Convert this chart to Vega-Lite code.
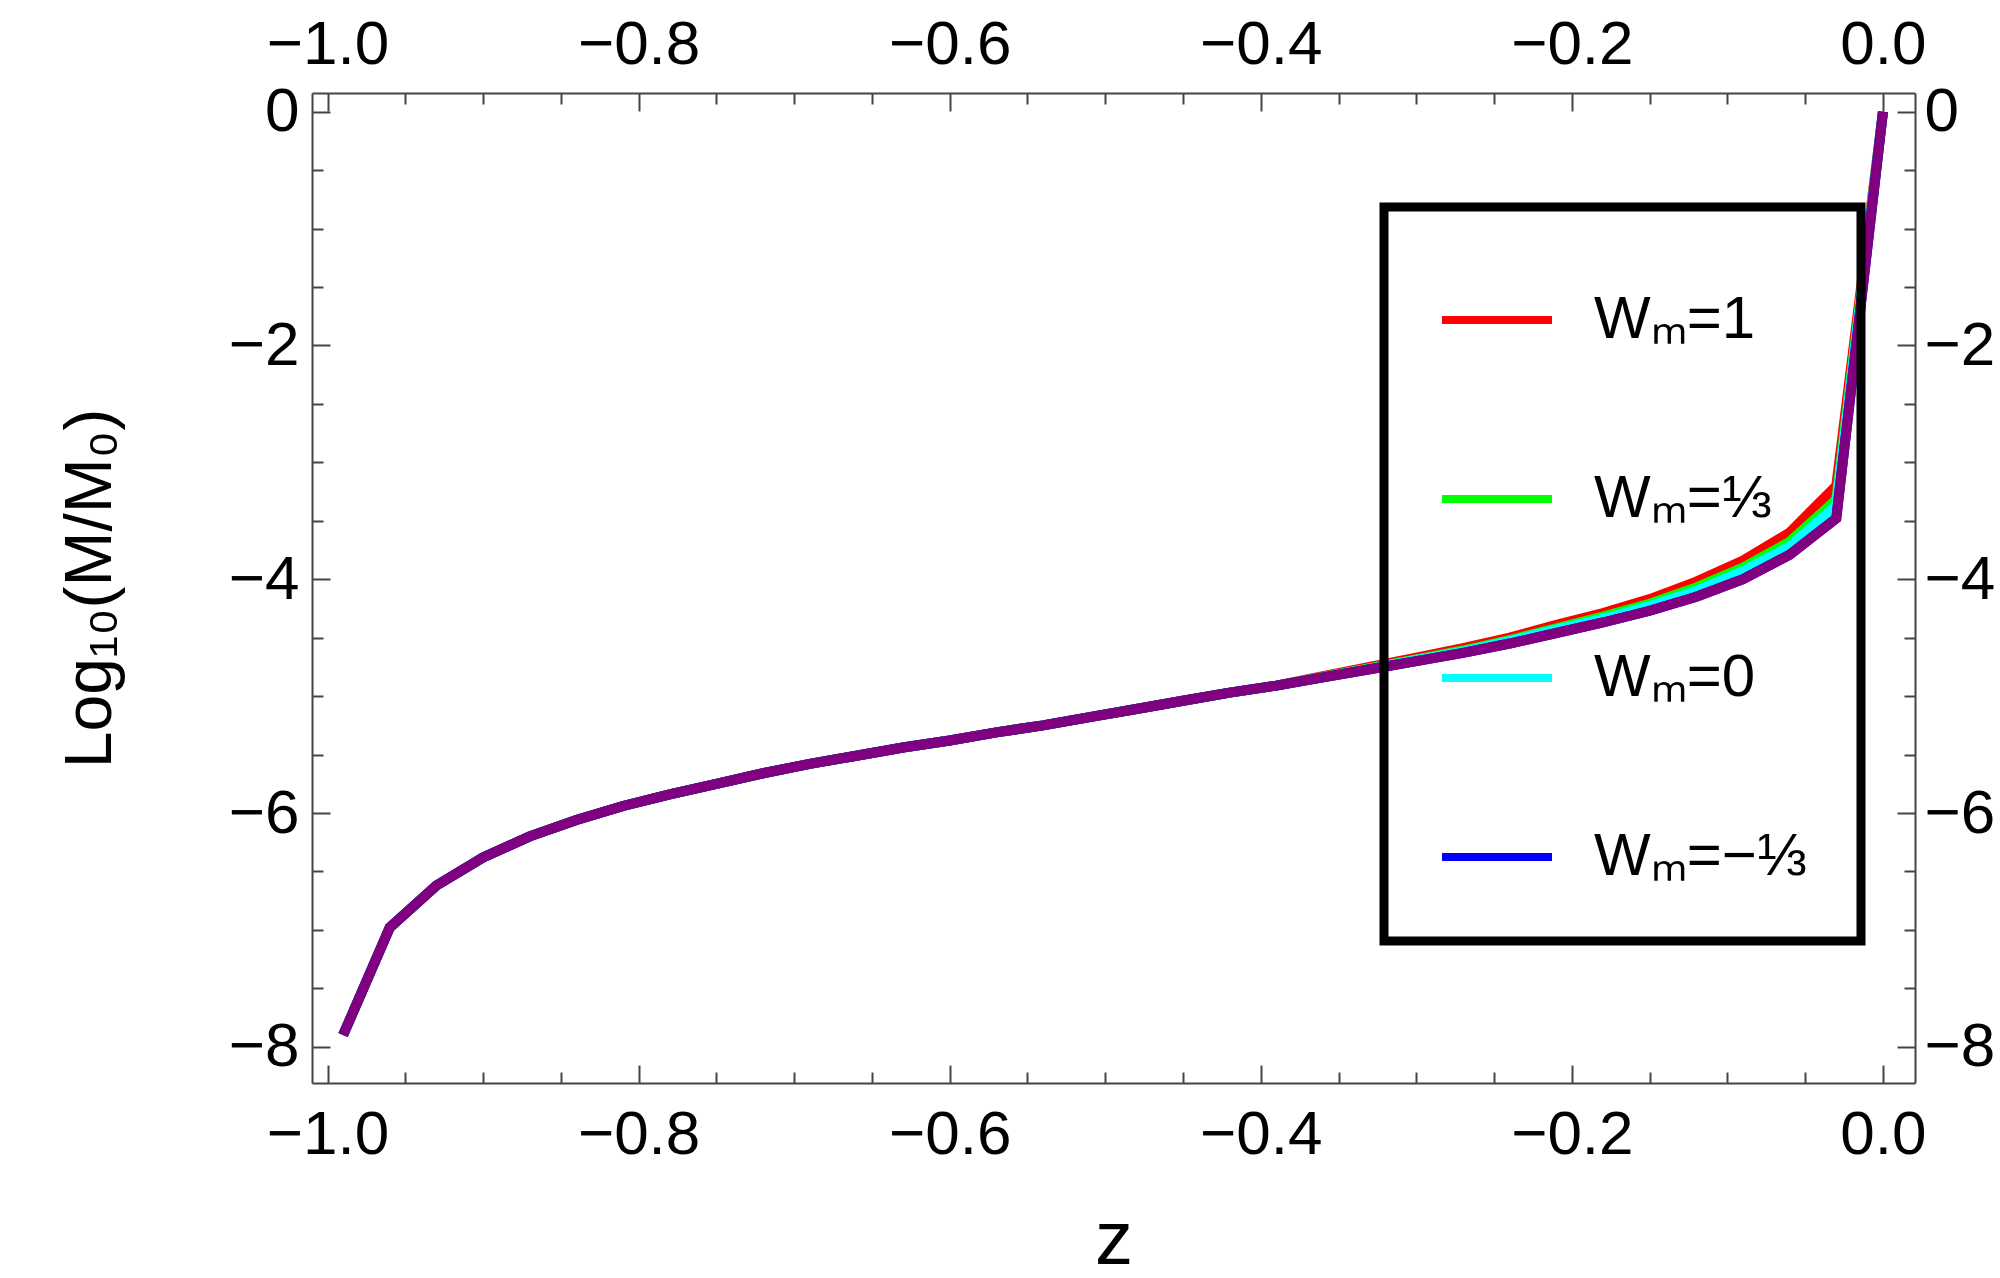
{
  "$schema": "https://vega.github.io/schema/vega-lite/v6.json",
  "autosize": {"type": "none"},
  "padding": {"left": 312, "top": 93, "right": 85, "bottom": 195},
  "width": 1603,
  "height": 990,
  "background": "white",
  "config": {
    "view": {"stroke": null},
    "axis": {
      "grid": false,
      "domainColor": "#444444",
      "domainWidth": 2,
      "tickColor": "#444444",
      "tickWidth": 2,
      "tickSize": 0,
      "labelFont": "Liberation Sans",
      "labelFontSize": 62,
      "labelColor": "black",
      "labelFlush": false,
      "labelOverlap": false,
      "labelBound": false,
      "titleFont": "Liberation Sans",
      "titleFontWeight": "normal",
      "titleColor": "black"
    }
  },
  "data": {
    "values": [
      {"z": -0.99, "v": -7.9, "s": "Wₘ=1"},
      {"z": -0.96, "v": -6.98, "s": "Wₘ=1"},
      {"z": -0.93, "v": -6.62, "s": "Wₘ=1"},
      {"z": -0.9, "v": -6.38, "s": "Wₘ=1"},
      {"z": -0.87, "v": -6.2, "s": "Wₘ=1"},
      {"z": -0.84, "v": -6.06, "s": "Wₘ=1"},
      {"z": -0.81, "v": -5.94, "s": "Wₘ=1"},
      {"z": -0.78, "v": -5.84, "s": "Wₘ=1"},
      {"z": -0.75, "v": -5.75, "s": "Wₘ=1"},
      {"z": -0.72, "v": -5.66, "s": "Wₘ=1"},
      {"z": -0.69, "v": -5.58, "s": "Wₘ=1"},
      {"z": -0.66, "v": -5.51, "s": "Wₘ=1"},
      {"z": -0.63, "v": -5.44, "s": "Wₘ=1"},
      {"z": -0.6, "v": -5.38, "s": "Wₘ=1"},
      {"z": -0.57, "v": -5.31, "s": "Wₘ=1"},
      {"z": -0.54, "v": -5.25, "s": "Wₘ=1"},
      {"z": -0.51, "v": -5.18, "s": "Wₘ=1"},
      {"z": -0.48, "v": -5.11, "s": "Wₘ=1"},
      {"z": -0.45, "v": -5.04, "s": "Wₘ=1"},
      {"z": -0.42, "v": -4.97, "s": "Wₘ=1"},
      {"z": -0.39, "v": -4.91, "s": "Wₘ=1"},
      {"z": -0.36, "v": -4.83, "s": "Wₘ=1"},
      {"z": -0.33, "v": -4.75, "s": "Wₘ=1"},
      {"z": -0.3, "v": -4.67, "s": "Wₘ=1"},
      {"z": -0.27, "v": -4.59, "s": "Wₘ=1"},
      {"z": -0.24, "v": -4.5, "s": "Wₘ=1"},
      {"z": -0.21, "v": -4.39, "s": "Wₘ=1"},
      {"z": -0.18, "v": -4.29, "s": "Wₘ=1"},
      {"z": -0.15, "v": -4.17, "s": "Wₘ=1"},
      {"z": -0.12, "v": -4.02, "s": "Wₘ=1"},
      {"z": -0.09, "v": -3.84, "s": "Wₘ=1"},
      {"z": -0.06, "v": -3.6, "s": "Wₘ=1"},
      {"z": -0.03, "v": -3.2, "s": "Wₘ=1"},
      {"z": 0, "v": 0, "s": "Wₘ=1"},
      {"z": -0.99, "v": -7.9, "s": "Wₘ=⅓"},
      {"z": -0.96, "v": -6.98, "s": "Wₘ=⅓"},
      {"z": -0.93, "v": -6.62, "s": "Wₘ=⅓"},
      {"z": -0.9, "v": -6.38, "s": "Wₘ=⅓"},
      {"z": -0.87, "v": -6.2, "s": "Wₘ=⅓"},
      {"z": -0.84, "v": -6.06, "s": "Wₘ=⅓"},
      {"z": -0.81, "v": -5.94, "s": "Wₘ=⅓"},
      {"z": -0.78, "v": -5.84, "s": "Wₘ=⅓"},
      {"z": -0.75, "v": -5.75, "s": "Wₘ=⅓"},
      {"z": -0.72, "v": -5.66, "s": "Wₘ=⅓"},
      {"z": -0.69, "v": -5.58, "s": "Wₘ=⅓"},
      {"z": -0.66, "v": -5.51, "s": "Wₘ=⅓"},
      {"z": -0.63, "v": -5.44, "s": "Wₘ=⅓"},
      {"z": -0.6, "v": -5.38, "s": "Wₘ=⅓"},
      {"z": -0.57, "v": -5.31, "s": "Wₘ=⅓"},
      {"z": -0.54, "v": -5.25, "s": "Wₘ=⅓"},
      {"z": -0.51, "v": -5.18, "s": "Wₘ=⅓"},
      {"z": -0.48, "v": -5.11, "s": "Wₘ=⅓"},
      {"z": -0.45, "v": -5.04, "s": "Wₘ=⅓"},
      {"z": -0.42, "v": -4.97, "s": "Wₘ=⅓"},
      {"z": -0.39, "v": -4.91, "s": "Wₘ=⅓"},
      {"z": -0.36, "v": -4.835, "s": "Wₘ=⅓"},
      {"z": -0.33, "v": -4.76, "s": "Wₘ=⅓"},
      {"z": -0.3, "v": -4.685, "s": "Wₘ=⅓"},
      {"z": -0.27, "v": -4.61, "s": "Wₘ=⅓"},
      {"z": -0.24, "v": -4.52, "s": "Wₘ=⅓"},
      {"z": -0.21, "v": -4.42, "s": "Wₘ=⅓"},
      {"z": -0.18, "v": -4.32, "s": "Wₘ=⅓"},
      {"z": -0.15, "v": -4.21, "s": "Wₘ=⅓"},
      {"z": -0.12, "v": -4.07, "s": "Wₘ=⅓"},
      {"z": -0.09, "v": -3.9, "s": "Wₘ=⅓"},
      {"z": -0.06, "v": -3.68, "s": "Wₘ=⅓"},
      {"z": -0.03, "v": -3.32, "s": "Wₘ=⅓"},
      {"z": 0, "v": 0, "s": "Wₘ=⅓"},
      {"z": -0.99, "v": -7.9, "s": "Wₘ=0"},
      {"z": -0.96, "v": -6.98, "s": "Wₘ=0"},
      {"z": -0.93, "v": -6.62, "s": "Wₘ=0"},
      {"z": -0.9, "v": -6.38, "s": "Wₘ=0"},
      {"z": -0.87, "v": -6.2, "s": "Wₘ=0"},
      {"z": -0.84, "v": -6.06, "s": "Wₘ=0"},
      {"z": -0.81, "v": -5.94, "s": "Wₘ=0"},
      {"z": -0.78, "v": -5.84, "s": "Wₘ=0"},
      {"z": -0.75, "v": -5.75, "s": "Wₘ=0"},
      {"z": -0.72, "v": -5.66, "s": "Wₘ=0"},
      {"z": -0.69, "v": -5.58, "s": "Wₘ=0"},
      {"z": -0.66, "v": -5.51, "s": "Wₘ=0"},
      {"z": -0.63, "v": -5.44, "s": "Wₘ=0"},
      {"z": -0.6, "v": -5.38, "s": "Wₘ=0"},
      {"z": -0.57, "v": -5.31, "s": "Wₘ=0"},
      {"z": -0.54, "v": -5.25, "s": "Wₘ=0"},
      {"z": -0.51, "v": -5.18, "s": "Wₘ=0"},
      {"z": -0.48, "v": -5.11, "s": "Wₘ=0"},
      {"z": -0.45, "v": -5.04, "s": "Wₘ=0"},
      {"z": -0.42, "v": -4.97, "s": "Wₘ=0"},
      {"z": -0.39, "v": -4.91, "s": "Wₘ=0"},
      {"z": -0.36, "v": -4.84, "s": "Wₘ=0"},
      {"z": -0.33, "v": -4.765, "s": "Wₘ=0"},
      {"z": -0.3, "v": -4.69, "s": "Wₘ=0"},
      {"z": -0.27, "v": -4.62, "s": "Wₘ=0"},
      {"z": -0.24, "v": -4.53, "s": "Wₘ=0"},
      {"z": -0.21, "v": -4.43, "s": "Wₘ=0"},
      {"z": -0.18, "v": -4.34, "s": "Wₘ=0"},
      {"z": -0.15, "v": -4.23, "s": "Wₘ=0"},
      {"z": -0.12, "v": -4.1, "s": "Wₘ=0"},
      {"z": -0.09, "v": -3.93, "s": "Wₘ=0"},
      {"z": -0.06, "v": -3.72, "s": "Wₘ=0"},
      {"z": -0.03, "v": -3.37, "s": "Wₘ=0"},
      {"z": 0, "v": 0, "s": "Wₘ=0"},
      {"z": -0.99, "v": -7.9, "s": "Wₘ=−⅓"},
      {"z": -0.96, "v": -6.98, "s": "Wₘ=−⅓"},
      {"z": -0.93, "v": -6.62, "s": "Wₘ=−⅓"},
      {"z": -0.9, "v": -6.38, "s": "Wₘ=−⅓"},
      {"z": -0.87, "v": -6.2, "s": "Wₘ=−⅓"},
      {"z": -0.84, "v": -6.06, "s": "Wₘ=−⅓"},
      {"z": -0.81, "v": -5.94, "s": "Wₘ=−⅓"},
      {"z": -0.78, "v": -5.84, "s": "Wₘ=−⅓"},
      {"z": -0.75, "v": -5.75, "s": "Wₘ=−⅓"},
      {"z": -0.72, "v": -5.66, "s": "Wₘ=−⅓"},
      {"z": -0.69, "v": -5.58, "s": "Wₘ=−⅓"},
      {"z": -0.66, "v": -5.51, "s": "Wₘ=−⅓"},
      {"z": -0.63, "v": -5.44, "s": "Wₘ=−⅓"},
      {"z": -0.6, "v": -5.38, "s": "Wₘ=−⅓"},
      {"z": -0.57, "v": -5.31, "s": "Wₘ=−⅓"},
      {"z": -0.54, "v": -5.25, "s": "Wₘ=−⅓"},
      {"z": -0.51, "v": -5.18, "s": "Wₘ=−⅓"},
      {"z": -0.48, "v": -5.11, "s": "Wₘ=−⅓"},
      {"z": -0.45, "v": -5.04, "s": "Wₘ=−⅓"},
      {"z": -0.42, "v": -4.97, "s": "Wₘ=−⅓"},
      {"z": -0.39, "v": -4.91, "s": "Wₘ=−⅓"},
      {"z": -0.36, "v": -4.84, "s": "Wₘ=−⅓"},
      {"z": -0.33, "v": -4.77, "s": "Wₘ=−⅓"},
      {"z": -0.3, "v": -4.7, "s": "Wₘ=−⅓"},
      {"z": -0.27, "v": -4.63, "s": "Wₘ=−⅓"},
      {"z": -0.24, "v": -4.55, "s": "Wₘ=−⅓"},
      {"z": -0.21, "v": -4.46, "s": "Wₘ=−⅓"},
      {"z": -0.18, "v": -4.37, "s": "Wₘ=−⅓"},
      {"z": -0.15, "v": -4.27, "s": "Wₘ=−⅓"},
      {"z": -0.12, "v": -4.15, "s": "Wₘ=−⅓"},
      {"z": -0.09, "v": -4.0, "s": "Wₘ=−⅓"},
      {"z": -0.06, "v": -3.79, "s": "Wₘ=−⅓"},
      {"z": -0.03, "v": -3.48, "s": "Wₘ=−⅓"},
      {"z": 0, "v": 0, "s": "Wₘ=−⅓"},
      {"z": -0.99, "v": -7.9, "s": "other"},
      {"z": -0.96, "v": -6.98, "s": "other"},
      {"z": -0.93, "v": -6.62, "s": "other"},
      {"z": -0.9, "v": -6.38, "s": "other"},
      {"z": -0.87, "v": -6.2, "s": "other"},
      {"z": -0.84, "v": -6.06, "s": "other"},
      {"z": -0.81, "v": -5.94, "s": "other"},
      {"z": -0.78, "v": -5.84, "s": "other"},
      {"z": -0.75, "v": -5.75, "s": "other"},
      {"z": -0.72, "v": -5.66, "s": "other"},
      {"z": -0.69, "v": -5.58, "s": "other"},
      {"z": -0.66, "v": -5.51, "s": "other"},
      {"z": -0.63, "v": -5.44, "s": "other"},
      {"z": -0.6, "v": -5.38, "s": "other"},
      {"z": -0.57, "v": -5.31, "s": "other"},
      {"z": -0.54, "v": -5.25, "s": "other"},
      {"z": -0.51, "v": -5.18, "s": "other"},
      {"z": -0.48, "v": -5.11, "s": "other"},
      {"z": -0.45, "v": -5.04, "s": "other"},
      {"z": -0.42, "v": -4.97, "s": "other"},
      {"z": -0.39, "v": -4.91, "s": "other"},
      {"z": -0.36, "v": -4.84, "s": "other"},
      {"z": -0.33, "v": -4.77, "s": "other"},
      {"z": -0.3, "v": -4.7, "s": "other"},
      {"z": -0.27, "v": -4.63, "s": "other"},
      {"z": -0.24, "v": -4.55, "s": "other"},
      {"z": -0.21, "v": -4.46, "s": "other"},
      {"z": -0.18, "v": -4.37, "s": "other"},
      {"z": -0.15, "v": -4.27, "s": "other"},
      {"z": -0.12, "v": -4.15, "s": "other"},
      {"z": -0.09, "v": -4.0, "s": "other"},
      {"z": -0.06, "v": -3.79, "s": "other"},
      {"z": -0.03, "v": -3.48, "s": "other"},
      {"z": 0, "v": 0, "s": "other"}
    ]
  },
  "layer": [
    {
      "transform": [{"filter": "datum.s !== 'other'"}],
      "mark": {"type": "line", "strokeWidth": 10},
      "encoding": {
        "x": {
          "field": "z",
          "type": "quantitative",
          "scale": {"domain": [-1.01, 0.0206], "nice": false, "zero": false},
          "axis": {
            "orient": "bottom",
            "values": [-1, -0.95, -0.9, -0.85, -0.8, -0.75, -0.7, -0.65, -0.6, -0.55, -0.5, -0.45, -0.4, -0.35, -0.3, -0.25, -0.2, -0.15, -0.1, -0.05, 0],
            "labelExpr": "abs(datum.value * 5 - round(datum.value * 5)) < 0.001 ? format(datum.value, '.1f') : ''",
            "labelPadding": 70,
            "labelBaseline": "alphabetic",
            "encoding": {"ticks": {"y2": {"condition": {"test": "abs(datum.value * 5 - round(datum.value * 5)) < 0.001", "value": -18}, "value": -11}}},
            "title": "z",
            "titleFontSize": 76,
            "titleBaseline": "alphabetic",
            "titleY": 180
          }
        },
        "y": {
          "field": "v",
          "type": "quantitative",
          "scale": {"domain": [-8.31, 0.16], "nice": false, "zero": false},
          "axis": {
            "orient": "left",
            "values": [-8, -7.5, -7, -6.5, -6, -5.5, -5, -4.5, -4, -3.5, -3, -2.5, -2, -1.5, -1, -0.5, 0],
            "labelExpr": "abs(datum.value / 2 - round(datum.value / 2)) < 0.001 ? format(datum.value, 'd') : ''",
            "labelPadding": 13,
            "labelBaseline": "middle",
            "encoding": {"ticks": {"x2": {"condition": {"test": "abs(datum.value / 2 - round(datum.value / 2)) < 0.001", "value": 18}, "value": 11}}},
            "title": "Log₁₀(M/M₀)",
            "titleFontSize": 66,
            "titleBaseline": "alphabetic",
            "titleX": -202
          }
        },
        "color": {
          "field": "s",
          "type": "nominal",
          "scale": {
            "domain": ["Wₘ=1", "Wₘ=⅓", "Wₘ=0", "Wₘ=−⅓"],
            "range": ["#ff0000", "#00ff00", "#00ffff", "#0000ff"]
          },
          "legend": {
            "title": null,
            "orient": "none",
            "legendX": 1072,
            "legendY": 114,
            "symbolType": "stroke",
            "symbolSize": 12100,
            "symbolStrokeWidth": 8,
            "labelFont": "Liberation Sans",
            "labelFontSize": 60,
            "labelColor": "black",
            "labelOffset": 38,
            "labelLimit": 500,
            "rowPadding": 90,
            "padding": 54,
            "strokeColor": "black",
            "encoding": {"legend": {"strokeWidth": {"value": 9}}}
          }
        }
      }
    },
    {
      "transform": [{"filter": "datum.s === 'other'"}],
      "mark": {"type": "line", "strokeWidth": 10, "color": "#800080"},
      "encoding": {
        "x": {
          "field": "z",
          "type": "quantitative",
          "axis": {
            "orient": "top",
            "values": [-1, -0.95, -0.9, -0.85, -0.8, -0.75, -0.7, -0.65, -0.6, -0.55, -0.5, -0.45, -0.4, -0.35, -0.3, -0.25, -0.2, -0.15, -0.1, -0.05, 0],
            "labelExpr": "abs(datum.value * 5 - round(datum.value * 5)) < 0.001 ? format(datum.value, '.1f') : ''",
            "labelPadding": 30,
            "labelBaseline": "alphabetic",
            "encoding": {"ticks": {"y2": {"condition": {"test": "abs(datum.value * 5 - round(datum.value * 5)) < 0.001", "value": 18}, "value": 11}}},
            "title": null
          }
        },
        "y": {
          "field": "v",
          "type": "quantitative",
          "axis": {
            "orient": "right",
            "values": [-8, -7.5, -7, -6.5, -6, -5.5, -5, -4.5, -4, -3.5, -3, -2.5, -2, -1.5, -1, -0.5, 0],
            "labelExpr": "abs(datum.value / 2 - round(datum.value / 2)) < 0.001 ? format(datum.value, 'd') : ''",
            "labelPadding": 9,
            "labelBaseline": "middle",
            "encoding": {"ticks": {"x2": {"condition": {"test": "abs(datum.value / 2 - round(datum.value / 2)) < 0.001", "value": -18}, "value": -11}}},
            "title": null
          }
        }
      }
    }
  ],
  "resolve": {"axis": {"x": "independent", "y": "independent"}}
}
